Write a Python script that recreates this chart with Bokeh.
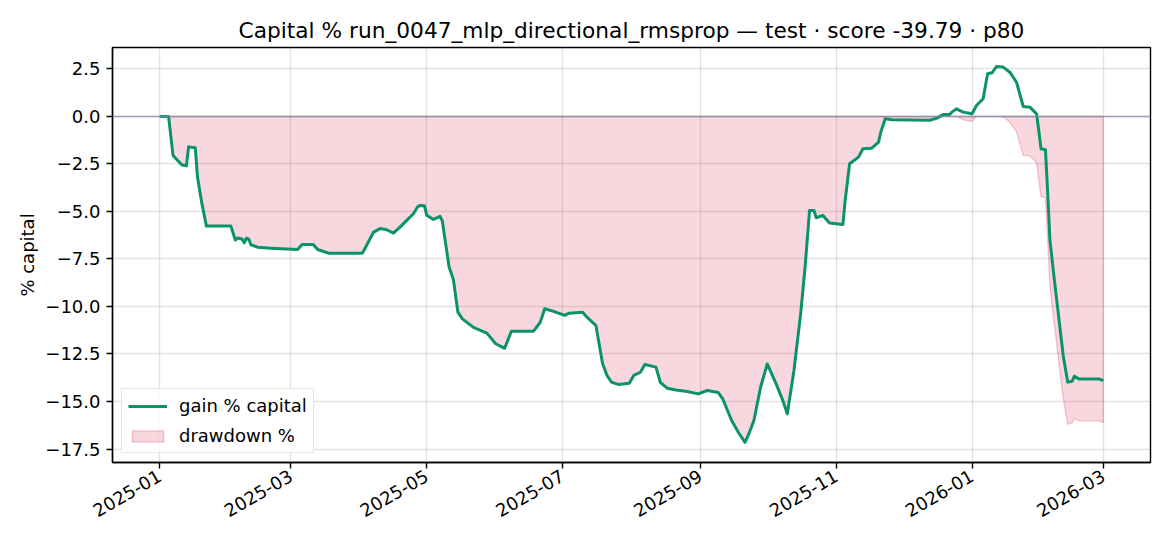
import math
import numpy as np
import pandas as pd
from bokeh.plotting import figure
from bokeh.models import (Range1d, FixedTicker, DatetimeTickFormatter, CustomJSTickFormatter,
                          Span, Legend, LegendItem)
from bokeh.embed import file_html
from bokeh.resources import INLINE

# ---- data ----
dates = [
    "2025-01-01", "2025-01-05", "2025-01-07", "2025-01-09", "2025-01-11", "2025-01-13", "2025-01-14",
    "2025-01-17", "2025-01-18", "2025-01-20", "2025-01-22", "2025-02-02", "2025-02-04", "2025-02-05",
    "2025-02-07", "2025-02-08", "2025-02-09", "2025-02-10", "2025-02-11", "2025-02-14", "2025-02-20",
    "2025-03-04", "2025-03-06", "2025-03-11", "2025-03-13", "2025-03-18", "2025-04-02", "2025-04-03",
    "2025-04-05", "2025-04-07", "2025-04-10", "2025-04-13", "2025-04-16", "2025-04-19", "2025-04-22",
    "2025-04-25", "2025-04-27", "2025-04-28", "2025-04-30", "2025-05-01", "2025-05-04", "2025-05-07",
    "2025-05-08", "2025-05-11", "2025-05-13", "2025-05-15", "2025-05-17", "2025-05-22", "2025-05-28",
    "2025-06-01", "2025-06-05", "2025-06-08", "2025-06-12", "2025-06-18", "2025-06-21", "2025-06-23",
    "2025-06-27", "2025-07-02", "2025-07-04", "2025-07-10", "2025-07-12", "2025-07-16", "2025-07-19",
    "2025-07-21", "2025-07-23", "2025-07-26", "2025-07-31", "2025-08-02", "2025-08-05", "2025-08-07",
    "2025-08-12", "2025-08-14", "2025-08-17", "2025-08-21", "2025-08-26", "2025-08-31", "2025-09-04",
    "2025-09-09", "2025-09-11", "2025-09-15", "2025-09-18", "2025-09-21", "2025-09-23", "2025-09-25",
    "2025-09-28", "2025-10-01", "2025-10-05", "2025-10-08", "2025-10-10", "2025-10-13", "2025-10-16",
    "2025-10-18", "2025-10-20", "2025-10-22", "2025-10-23", "2025-10-26", "2025-10-29", "2025-11-04",
    "2025-11-05", "2025-11-07", "2025-11-11", "2025-11-13", "2025-11-17", "2025-11-20", "2025-11-21",
    "2025-11-23", "2025-11-26", "2025-12-13", "2025-12-16", "2025-12-19", "2025-12-22", "2025-12-23",
    "2025-12-25", "2025-12-28", "2026-01-01", "2026-01-03", "2026-01-06", "2026-01-08", "2026-01-10",
    "2026-01-12", "2026-01-15", "2026-01-18", "2026-01-21", "2026-01-24", "2026-01-27", "2026-01-30",
    "2026-01-31", "2026-02-01", "2026-02-03", "2026-02-04", "2026-02-05", "2026-02-07", "2026-02-09",
    "2026-02-11", "2026-02-13", "2026-02-15", "2026-02-16", "2026-02-18", "2026-02-27", "2026-03-01",
]
gain_pct = [
    0.0, 0.0, -2.05, -2.3, -2.55, -2.6, -1.6,
    -1.65, -3.2, -4.6, -5.77, -5.77, -6.5, -6.4,
    -6.45, -6.65, -6.4, -6.45, -6.75, -6.88, -6.93,
    -7.0, -6.74, -6.74, -7.0, -7.2, -7.2, -7.0,
    -6.55, -6.1, -5.9, -5.96, -6.14, -5.82, -5.47,
    -5.12, -4.74, -4.68, -4.7, -5.2, -5.42, -5.26,
    -5.5, -7.9, -8.6, -10.3, -10.65, -11.1, -11.4,
    -11.96, -12.2, -11.3, -11.3, -11.3, -10.83, -10.12,
    -10.26, -10.47, -10.35, -10.3, -10.56, -11.0, -13.0,
    -13.63, -13.98, -14.1, -14.04, -13.63, -13.46, -13.05,
    -13.19, -14.0, -14.3, -14.39, -14.47, -14.6, -14.42,
    -14.53, -14.86, -16.0, -16.62, -17.15, -16.62, -16.0,
    -14.25, -13.02, -14.07, -14.95, -15.65, -13.37, -10.39,
    -7.93, -4.95, -4.95, -5.33, -5.21, -5.61, -5.68,
    -4.42, -2.49, -2.14, -1.7, -1.67, -1.35, -0.83,
    -0.12, -0.17, -0.2, -0.1, 0.1, 0.1, 0.23,
    0.4, 0.23, 0.14, 0.58, 0.93, 2.25, 2.3,
    2.63, 2.6, 2.33, 1.8, 0.53, 0.49, 0.14,
    -0.74, -1.7, -1.75, -4.0, -6.5, -8.6, -10.6,
    -12.6, -13.98, -13.93, -13.67, -13.81, -13.81, -13.9,
]
x_tick_labels = ["2025-01", "2025-03", "2025-05", "2025-07", "2025-09", "2025-11", "2026-01", "2026-03"]
y_ticks = [2.5, 0.0, -2.5, -5.0, -7.5, -10.0, -12.5, -15.0, -17.5]

title_text = "Capital % run_0047_mlp_directional_rmsprop \u2014 test \u00b7 score -39.79 \u00b7 p80"

# ---- derived: drawdown relative to running peak of equity ----
x = pd.to_datetime(dates)
g = np.array(gain_pct)
peak = np.maximum.accumulate(np.maximum(g, 0.0))
drawdown_pct = ((1 + g / 100.0) / (1 + peak / 100.0) - 1) * 100.0

x_start = x[0] - pd.Timedelta(days=21.2)
x_end = x[-1] + pd.Timedelta(days=21.2)

FONT = "DejaVu Sans"
TICK_FS = "18px"

p = figure(width=1162, height=538, output_backend="svg", toolbar_location=None,
           x_axis_type="datetime",
           x_range=Range1d(x_start, x_end), y_range=Range1d(-18.21, 3.63),
           frame_width=1038, frame_height=415,
           min_border_left=112, min_border_right=12, min_border_top=47, min_border_bottom=76)

p.title.text = title_text
p.title.align = "center"
p.title.text_font = FONT
p.title.text_font_size = "21.7px"
p.title.text_font_style = "normal"
p.title.text_color = "black"
p.title.standoff = 9

p.background_fill_color = "white"
p.border_fill_color = "white"
p.outline_line_color = "black"
p.outline_line_width = 1.4

for ax in (p.xaxis[0], p.yaxis[0]):
    ax.axis_line_color = "black"
    ax.axis_line_width = 1.4
    ax.major_tick_line_color = "black"
    ax.major_tick_line_width = 1.4
    ax.major_tick_out = 6
    ax.major_tick_in = 0
    ax.minor_tick_line_color = None
    ax.major_label_text_font = FONT
    ax.major_label_text_font_size = TICK_FS
    ax.major_label_text_color = "black"
    ax.major_label_standoff = 6

tick_ms = [pd.Timestamp(s + "-01").value / 1e6 for s in x_tick_labels]
p.xaxis.ticker = FixedTicker(ticks=tick_ms)
p.xaxis.formatter = DatetimeTickFormatter(years="%Y-%m", months="%Y-%m", days="%Y-%m",
                                          hours="%Y-%m", minutes="%Y-%m", seconds="%Y-%m",
                                          milliseconds="%Y-%m", microseconds="%Y-%m",
                                          hourmin="%Y-%m", minsec="%Y-%m")
p.xaxis.major_label_orientation = math.pi / 6

p.yaxis.ticker = FixedTicker(ticks=y_ticks)
p.yaxis.formatter = CustomJSTickFormatter(code="return tick.toFixed(1).replace('-', '\\u2212');")
p.yaxis.axis_label = "% capital"
p.yaxis.axis_label_text_font = FONT
p.yaxis.axis_label_text_font_size = TICK_FS
p.yaxis.axis_label_text_font_style = "normal"
p.yaxis.axis_label_text_color = "black"
p.yaxis.axis_label_standoff = 4

p.grid.grid_line_color = "#b0b0b0"
p.grid.grid_line_alpha = 0.35
p.grid.grid_line_width = 1.4
p.xgrid.ticker = FixedTicker(ticks=tick_ms)
p.ygrid.ticker = FixedTicker(ticks=y_ticks)

# drawdown area (fill between drawdown and 0)
px = list(x) + list(x[::-1])
py = list(drawdown_pct) + [0.0] * len(x)
dd_r = p.patch(px, py, fill_color="crimson", fill_alpha=0.17,
               line_color="crimson", line_alpha=0.22, line_width=1.4)

zero = Span(location=0, dimension="width", line_color="#7f8ba3", line_alpha=0.75, line_width=1.4)
p.add_layout(zero)

gain_r = p.line(x, g, line_color="#0a936a", line_width=3.0, line_join="round")

legend = Legend(items=[LegendItem(label="gain % capital", renderers=[gain_r]),
                       LegendItem(label="drawdown %", renderers=[dd_r])],
                location="bottom_left")
legend.label_text_font = FONT
legend.label_text_font_size = TICK_FS
legend.label_text_color = "black"
legend.glyph_width = 39
legend.glyph_height = 14
legend.label_height = 18
legend.label_standoff = 12
legend.spacing = 9
legend.padding = 6
legend.margin = 9
legend.border_line_color = "#cccccc"
legend.border_line_width = 1.4
legend.background_fill_color = "white"
legend.background_fill_alpha = 0.8
p.add_layout(legend, "center")

open("out.html", "w").write(file_html(p, INLINE))
